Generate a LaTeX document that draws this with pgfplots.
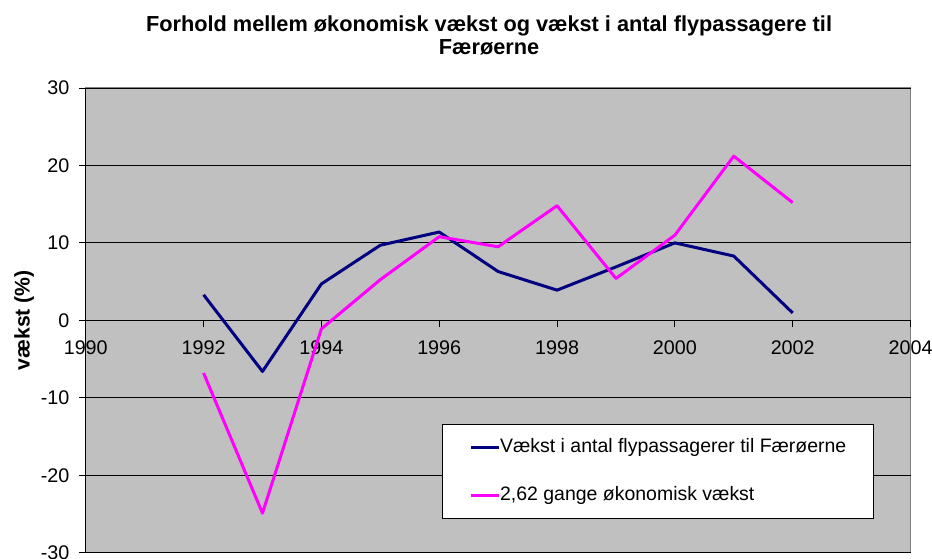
\documentclass[border=0pt]{standalone}
\usepackage{fontspec}
\setmainfont{Liberation Sans}
\usepackage{pgfplots}
\pgfplotsset{compat=1.18}
\definecolor{plotgrey}{HTML}{C0C0C0}
\definecolor{framegrey}{HTML}{808080}
\definecolor{navyline}{HTML}{000080}
\definecolor{magentaline}{HTML}{FF00FF}

\begin{document}
\begin{tikzpicture}
\useasboundingbox (-64.3pt,-4pt) rectangle (634.7pt,414.5pt);
\begin{axis}[
  at={(0pt,0pt)}, anchor=south west,
  width=618.6pt, height=348.5pt, scale only axis,
  xmin=1990, xmax=2004, ymin=-30, ymax=30,
  axis x line=middle, axis y line=left,
  axis line style={black, line width=0.75pt, -},
  hide obscured x ticks=false, hide obscured y ticks=false,
  xtick={1990,1992,...,2004},
  xticklabels={1990,1992,1994,1996,1998,2000,2002,2004},
  ytick={-30,-20,...,30},
  yticklabels={-30,-20,-10,0,10,20,30},
  tick align=outside, major tick length=5pt,
  tick style={black, line width=0.75pt},
  ymajorgrids, major grid style={black, line width=0.75pt},
  axis background/.style={fill=plotgrey, draw=framegrey, line width=1pt},
  ticklabel style={font=\fontsize{14.8}{17}\selectfont},
  xticklabel style={yshift=-7pt},
  yticklabel style={xshift=-3.7pt},
  ylabel={vækst (\%)},
  ylabel style={at={(axis description cs:-0.0748,0.5)}, anchor=center,
    font=\bfseries\fontsize{15.9}{18}\selectfont},
  legend cell align=left,
  legend image code/.code={\draw[#1, line width=2.25pt] (0pt,0pt) -- (20.5pt,0pt);},
  legend style={at={(axis description cs:0.4316,0.2763)}, anchor=north west,
    draw=black, line width=0.75pt, fill=white,
    inner xsep=20.7pt, inner ysep=10.25pt, row sep=22.1pt,
    font=\fontsize{14.6}{17}\selectfont,
    nodes={inner sep=0pt, text height=10.6pt, text depth=3.1pt},
    /tikz/every even column/.append style={column sep=2.5pt}},
]
\addplot[navyline, line width=2.25pt, line join=round, no marks] coordinates {
  (1992,3.3) (1993,-6.6) (1994,4.7) (1995,9.7) (1996,11.4) (1997,6.3)
  (1998,3.9) (1999,6.9) (2000,10.0) (2001,8.3) (2002,0.95)
};
\addlegendentry{Vækst i antal flypassagerer til Færøerne}
\addplot[magentaline, line width=2.25pt, line join=round, no marks] coordinates {
  (1992,-6.8) (1993,-24.9) (1994,-1.1) (1995,5.25) (1996,10.8) (1997,9.5)
  (1998,14.8) (1999,5.4) (2000,11.0) (2001,21.2) (2002,15.2)
};
\addlegendentry{2,62 gange økonomisk vækst}
\end{axis}
\node[anchor=base, font=\bfseries\fontsize{16.3}{19}\selectfont] at (302.5pt,390.75pt)
  {Forhold mellem økonomisk vækst og vækst i antal flypassagere til};
\node[anchor=base, font=\bfseries\fontsize{16.3}{19}\selectfont] at (302.5pt,373.3pt)
  {Færøerne};
\end{tikzpicture}
\end{document}
